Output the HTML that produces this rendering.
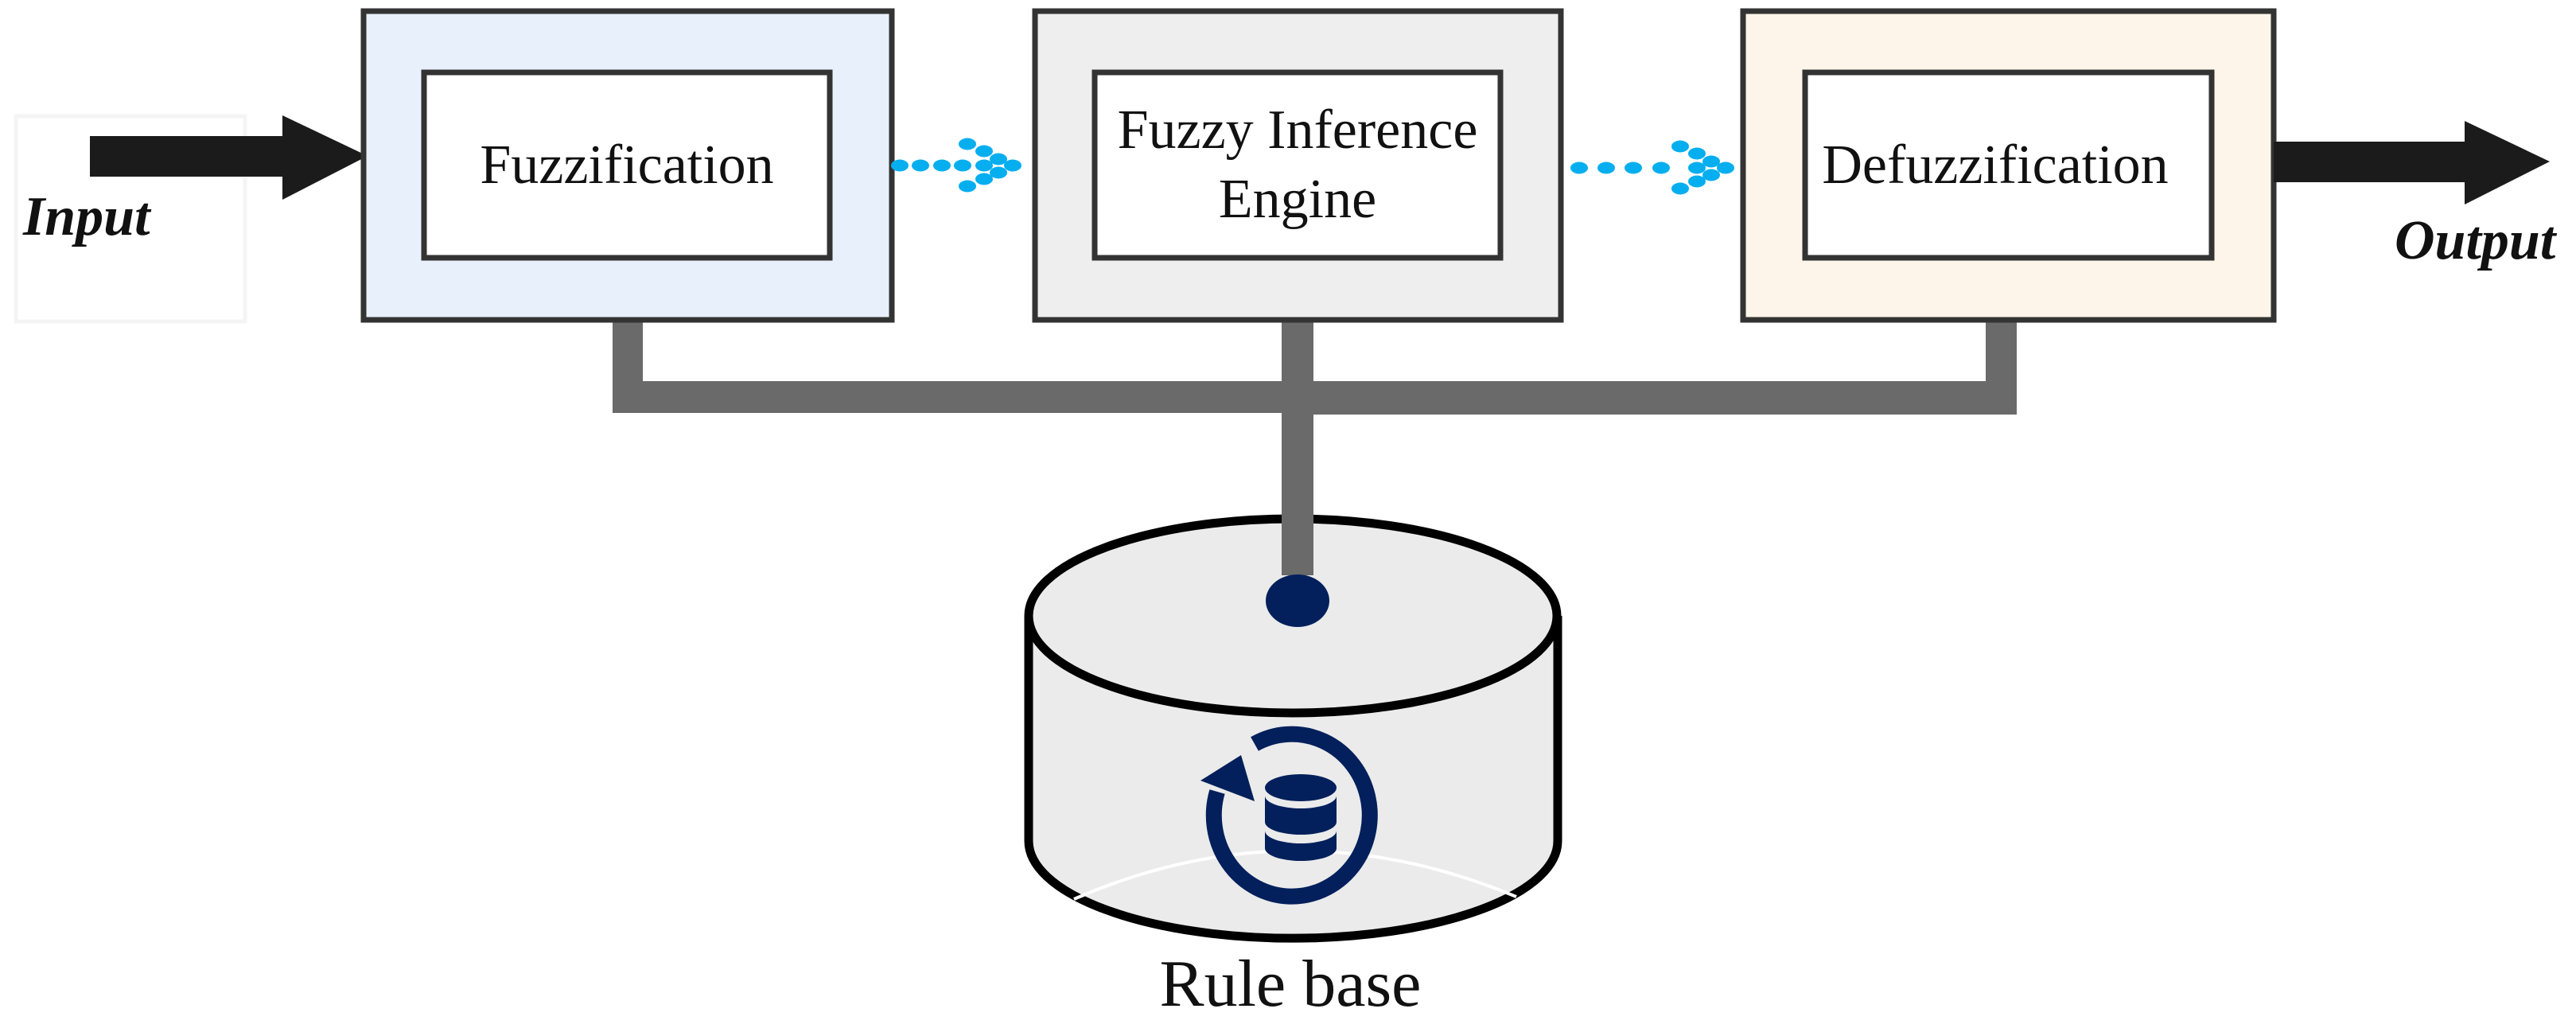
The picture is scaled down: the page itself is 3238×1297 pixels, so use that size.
<!DOCTYPE html>
<html><head><meta charset="utf-8"><style>
html,body{margin:0;padding:0;background:#fff;}
svg{display:block;}
text{font-family:"Liberation Serif",serif;fill:#111;}
</style></head><body>
<svg width="3238" height="1297" viewBox="0 0 3238 1297" xmlns="http://www.w3.org/2000/svg">
<!-- input faint box -->
<rect x="20" y="146" width="288" height="258" fill="#fff" stroke="#f4f4f4" stroke-width="5"/>
<!-- input arrow -->
<polygon points="113,171 355,171 355,145 462,196 355,251 355,222 113,222" fill="#1b1b1b"/>
<text x="29" y="295" font-size="70" font-style="italic" font-weight="bold">Input</text>

<!-- connectors -->
<rect x="770" y="400" width="38" height="119" fill="#6a6a6a"/>
<rect x="770" y="479" width="1765" height="40" fill="#6a6a6a"/>
<rect x="1611" y="400" width="40" height="323" fill="#6a6a6a"/>
<rect x="2496" y="400" width="39" height="121" fill="#6a6a6a"/>
<rect x="1651" y="481" width="884" height="40" fill="#6a6a6a"/>

<!-- box1 -->
<rect x="457" y="14" width="664" height="388" fill="#e8f1fb" stroke="#333" stroke-width="7"/>
<rect x="533" y="91" width="510" height="233" fill="#fff" stroke="#333" stroke-width="7"/>
<text x="788" y="230" font-size="70" text-anchor="middle">Fuzzification</text>

<!-- box2 -->
<rect x="1301" y="14" width="661" height="388" fill="#eeeeee" stroke="#333" stroke-width="7"/>
<rect x="1376" y="91" width="510" height="233" fill="#fff" stroke="#333" stroke-width="7"/>
<text x="1631" y="186" font-size="70" text-anchor="middle">Fuzzy Inference</text>
<text x="1631" y="273" font-size="70" text-anchor="middle">Engine</text>

<!-- box3 -->
<rect x="2191" y="14" width="667" height="388" fill="#fdf5ea" stroke="#333" stroke-width="7"/>
<rect x="2269" y="91" width="511" height="233" fill="#fff" stroke="#333" stroke-width="7"/>
<text x="2508" y="230" font-size="70" text-anchor="middle">Defuzzification</text>

<!-- output arrow -->
<polygon points="2858,178 3098,178 3098,152 3205,203 3098,257 3098,229 2858,229" fill="#1b1b1b"/>
<text x="3010" y="325" font-size="70" font-style="italic" font-weight="bold">Output</text>

<!-- dotted arrows -->
<g fill="#05aeef">
<ellipse cx="1131" cy="208" rx="11" ry="7.5"/><ellipse cx="1157" cy="208" rx="11" ry="7.5"/>
<ellipse cx="1184" cy="208" rx="11" ry="7.5"/><ellipse cx="1210" cy="208" rx="11" ry="7.5"/>
<ellipse cx="1237" cy="208" rx="11" ry="7.5"/><ellipse cx="1273" cy="208" rx="11" ry="7.5"/>
<ellipse cx="1216" cy="181" rx="11" ry="7.5"/><ellipse cx="1237" cy="190" rx="11" ry="7.5"/>
<ellipse cx="1255" cy="200" rx="11" ry="7.5"/><ellipse cx="1255" cy="217" rx="11" ry="7.5"/>
<ellipse cx="1237" cy="225" rx="11" ry="7.5"/><ellipse cx="1216" cy="234" rx="11" ry="7.5"/>

<ellipse cx="1985" cy="211" rx="11" ry="7.5"/><ellipse cx="2019" cy="211" rx="11" ry="7.5"/>
<ellipse cx="2053" cy="211" rx="11" ry="7.5"/><ellipse cx="2088" cy="211" rx="11" ry="7.5"/>
<ellipse cx="2133" cy="211" rx="11" ry="7.5"/><ellipse cx="2169" cy="211" rx="11" ry="7.5"/>
<ellipse cx="2112" cy="184" rx="11" ry="7.5"/><ellipse cx="2133" cy="193" rx="11" ry="7.5"/>
<ellipse cx="2151" cy="203" rx="11" ry="7.5"/><ellipse cx="2151" cy="220" rx="11" ry="7.5"/>
<ellipse cx="2133" cy="228" rx="11" ry="7.5"/><ellipse cx="2112" cy="237" rx="11" ry="7.5"/>
</g>

<!-- cylinder -->
<path d="M1293,774 L1293,1057 A332,122 0 0 0 1958,1057 L1958,774" fill="#ebebeb" stroke="#000" stroke-width="11"/>
<ellipse cx="1625" cy="774" rx="332" ry="122" fill="#ebebeb" stroke="#000" stroke-width="11"/>
<path d="M1350,1130 Q1625,1010 1906,1127" fill="none" stroke="#fff" stroke-width="4"/>
<!-- connector over cylinder -->
<rect x="1611" y="600" width="40" height="123" fill="#6a6a6a"/>
<ellipse cx="1631" cy="755" rx="40" ry="33" fill="#03205c"/>

<!-- icon -->
<path d="M1577,935 A98,102 0 1 1 1530,995" fill="none" stroke="#03205c" stroke-width="20"/>
<polygon points="1509,981 1560,949 1577,1007" fill="#03205c"/>
<g fill="#03205c">
<ellipse cx="1635" cy="990" rx="45" ry="17"/>
<path d="M1590,1000 L1590,1033 A45,16 0 0 0 1680,1033 L1680,1000 A45,16 0 0 1 1590,1000 Z"/>
<path d="M1590,1044 L1590,1066 A45,16 0 0 0 1680,1066 L1680,1044 A45,16 0 0 1 1590,1044 Z"/>
</g>

<text x="1622" y="1264" font-size="84" text-anchor="middle">Rule base</text>
</svg>
</body></html>
